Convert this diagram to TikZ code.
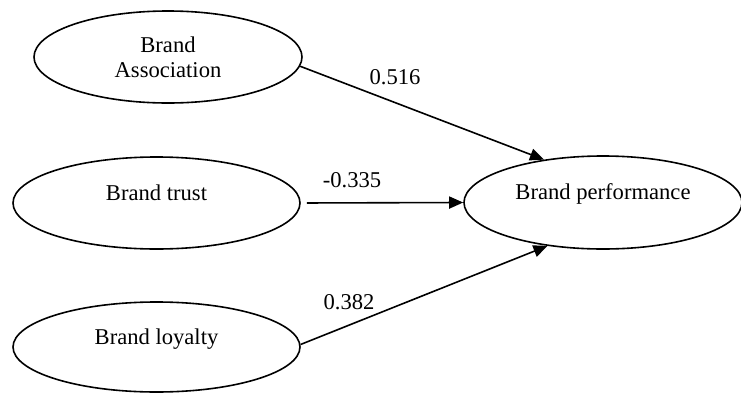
\documentclass[tikz,border=0pt]{standalone}
\usepackage{fontspec}
\setmainfont{Liberation Serif}
\usepackage{tikz}
\usetikzlibrary{arrows.meta, positioning, shapes.geometric, calc}

\tikzset{
    construct/.style={draw=black, line width=0.8pt, ellipse, inner sep=0pt,
        font=\fontsize{11.3}{12.5}\selectfont, text height=8pt, text depth=10.8pt},
    construct2/.style={draw=black, line width=0.8pt, ellipse, inner sep=0pt,
        font=\fontsize{11.3}{12.5}\selectfont, align=center},
    path/.style={line width=0.8pt, -{Triangle[length=7pt, width=6pt]}},
    coef/.style={font=\fontsize{11.3}{12.5}\selectfont, inner sep=0pt}
}

\begin{document}
\begin{tikzpicture}[x=0.5pt, y=0.5pt]
    \useasboundingbox (0,0) rectangle (741,393);

    % ===== Constructs =====
    \node[construct2, minimum width=134pt, minimum height=46pt] (assoc) at (168,336) {Brand\\Association};
    \node[construct, minimum width=143.5pt, minimum height=46pt] (trust) at (156.5,190) {Brand trust};
    \node[construct, minimum width=143.5pt, minimum height=45pt] (loyal) at (156.5,46) {Brand loyalty};
    \node[construct, minimum width=139pt, minimum height=46.5pt] (perf) at (603,190.5) {Brand performance};

    % ===== Paths =====
    \draw[path] (assoc.-4) -- (perf.144);
    \draw[path, shorten <=3pt] (trust.east) -- (perf.west);
    \draw[path] (loyal.1) -- (perf.218);

    % Coefficients
    \node[coef] (c1) at (395,316) {0.516};
    \node[coef] (c2) at (352,213) {-0.335};
    \node[coef] (c3) at (349,91) {0.382};
\end{tikzpicture}
\end{document}
